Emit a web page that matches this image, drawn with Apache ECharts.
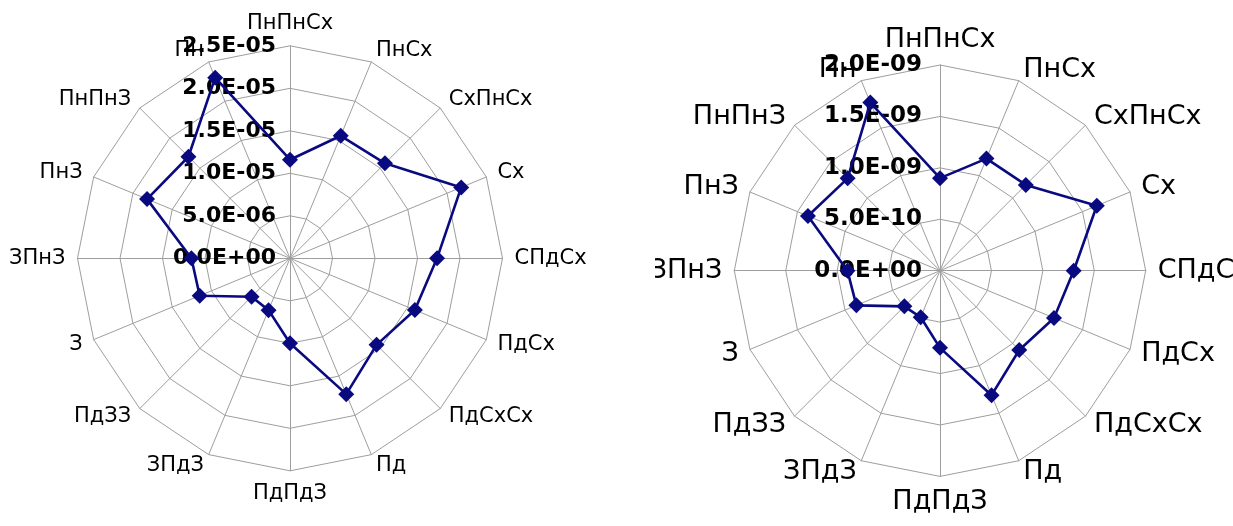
<!DOCTYPE html>
<html>
<head>
<meta charset="utf-8">
<style>
  html, body { margin: 0; padding: 0; background: #fff; }
  #wrap { position: relative; width: 1233px; height: 526px; overflow: hidden; }
  #left { position: absolute; left: 0; top: 0; width: 655px; height: 526px; }
  #right { position: absolute; left: 655px; top: 0; width: 578px; height: 526px; }
</style>
<script src="https://cdn.jsdelivr.net/npm/echarts@6/dist/echarts.min.js"></script>
</head>
<body>
<div id="wrap">
  <div id="left"></div>
  <div id="right"></div>
</div>
<script>
// Wind directions, listed clockwise starting from the top of the rose
const directions = ['ПнПнСх', 'ПнСх', 'СхПнСх', 'Сх', 'СПдСх', 'ПдСх', 'ПдСхСх', 'Пд',
                    'ПдПдЗ', 'ЗПдЗ', 'ПдЗЗ', 'З', 'ЗПнЗ', 'ПнЗ', 'ПнПнЗ', 'Пн'];

// Left rose values
const leftValues = [1.16e-5, 1.56e-5, 1.58e-5, 2.18e-5, 1.73e-5, 1.59e-5, 1.44e-5, 1.73e-5,
                    1.00e-5, 0.66e-5, 0.64e-5, 1.15e-5, 1.16e-5, 1.82e-5, 1.69e-5, 2.30e-5];
const leftTicks = ['0.0E+00', '5.0E-06', '1.0E-05', '1.5E-05', '2.0E-05', '2.5E-05'];
const leftMax = 2.5e-5;

// Right rose values
const rightValues = [0.90e-9, 1.18e-9, 1.18e-9, 1.65e-9, 1.30e-9, 1.20e-9, 1.09e-9, 1.31e-9,
                     0.75e-9, 0.49e-9, 0.49e-9, 0.88e-9, 0.90e-9, 1.39e-9, 1.27e-9, 1.77e-9];
const rightTicks = ['0.0E+00', '5.0E-10', '1.0E-09', '1.5E-09', '2.0E-09'];
const rightMax = 2.0e-9;

// ECharts lays radar indicators out counter-clockwise; keep the first one on top
// and reverse the rest so the directions run clockwise.
function clockwiseOrder(arr) {
  return [arr[0]].concat(arr.slice(1).reverse());
}

function buildOption(values, ticks, max, cfg) {
  const names = clockwiseOrder(directions);
  const indicator = names.map(function (name, i) {
    const ind = { name: name, min: 0, max: max };
    if (i === 0) {
      ind.axisLabel = {
        show: true,
        color: '#000',
        fontWeight: 'bold',
        fontSize: cfg.tickFont,
        fontFamily: 'DejaVu Sans',
        margin: cfg.tickMargin,
        formatter: function (v, idx) { return ticks[idx]; }
      };
    }
    return ind;
  });
  return {
    animation: false,
    backgroundColor: '#fff',
    radar: {
      center: cfg.center,
      radius: cfg.radius,
      startAngle: 90,
      splitNumber: ticks.length - 1,
      shape: 'polygon',
      indicator: indicator,
      nameGap: cfg.nameGap,
      axisName: {
        color: '#000',
        fontSize: cfg.nameFont,
        fontFamily: 'DejaVu Sans'
      },
      axisLine: { show: true, lineStyle: { color: '#9e9e9e', width: 1 } },
      axisTick: { show: false },
      axisLabel: { show: false },
      splitLine: { show: true, lineStyle: { color: '#9e9e9e', width: 1 } },
      splitArea: { show: false }
    },
    series: [{
      type: 'radar',
      symbol: 'diamond',
      symbolSize: 16,
      lineStyle: { color: '#0a0a80', width: 2.6 },
      itemStyle: { color: '#0a0a80' },
      data: [{ value: clockwiseOrder(values) }]
    }]
  };
}

const leftChart = echarts.init(document.getElementById('left'), null, { renderer: 'canvas' });
leftChart.setOption(buildOption(leftValues, leftTicks, leftMax, {
  center: [290, 258.3], radius: 212.5, nameGap: 12, nameFont: 21, tickFont: 22, tickMargin: 14
}));

const rightChart = echarts.init(document.getElementById('right'), null, { renderer: 'canvas' });
rightChart.setOption(buildOption(rightValues, rightTicks, rightMax, {
  center: [285, 270.7], radius: 205.7, nameGap: 12, nameFont: 27, tickFont: 23, tickMargin: 18
}));
</script>
</body>
</html>
